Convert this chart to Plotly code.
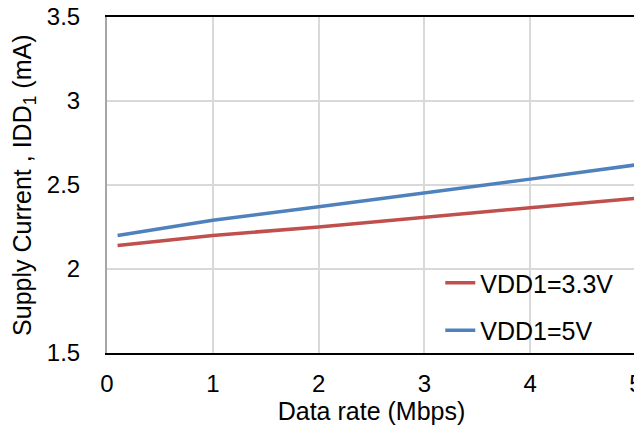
import plotly.graph_objects as go

x_rate = [0.1, 1, 2, 3, 4, 5]
idd_33 = [2.14, 2.20, 2.25, 2.31, 2.365, 2.42]
idd_5 = [2.20, 2.29, 2.37, 2.45, 2.535, 2.62]
series_names = ["VDD1=3.3V", "VDD1=5V"]

fig = go.Figure()
fig.add_trace(go.Scatter(x=x_rate, y=idd_33, mode="lines", name=series_names[0],
                         line=dict(color="#C0504D", width=3.5), legendgroup="a"))
fig.add_trace(go.Scatter(x=x_rate, y=idd_5, mode="lines", name=series_names[1],
                         line=dict(color="#4F81BD", width=3.5), legendgroup="b"))

tick_font = dict(family="Liberation Sans, Arial", size=24, color="#000000")
title_font = dict(family="Liberation Sans, Arial", size=25, color="#000000")
# page has an 8px body margin, so the figure is shrunk/shifted to land in the 642x432 window
fig.update_layout(
    width=634, height=424,
    margin=dict(l=99, r=6, t=9, b=79, autoexpand=False),
    paper_bgcolor="white", plot_bgcolor="white",
    font=tick_font,
    showlegend=True,
    legend=dict(x=0.63, y=0.0, xanchor="left", yanchor="bottom",
                bgcolor="rgba(0,0,0,0)", traceorder="grouped", tracegroupgap=12,
                font=title_font),
    xaxis=dict(range=[0, 5], dtick=1, showgrid=True, gridcolor="#D9D9D9", gridwidth=2,
               showline=True, linecolor="#000000", linewidth=2, mirror=True,
               ticks="", zeroline=False, automargin=False, tickfont=tick_font,
               ticklabelstandoff=8, ticklabeloverflow="allow",
               title=dict(text="Data rate (Mbps)", font=title_font, standoff=4)),
    yaxis=dict(range=[1.5, 3.5], dtick=0.5, showgrid=True, gridcolor="#D9D9D9", gridwidth=2,
               showline=True, linecolor="#A6A6A6", linewidth=2, mirror=False,
               ticks="", zeroline=False, automargin=False, tickfont=tick_font,
               ticklabelstandoff=20, ticklabeloverflow="allow"),
    annotations=[dict(text="Supply Current , IDD<sub>1</sub> (mA)", font=title_font,
                      textangle=-90, xref="paper", yref="paper", x=-0.157, y=0.5,
                      xanchor="center", yanchor="middle", showarrow=False)],
    shapes=[dict(type="line", xref="paper", yref="paper", x0=1, x1=1, y0=0, y1=1,
                 line=dict(color="#000000", width=2))],
)
fig.write_html("out.html")
